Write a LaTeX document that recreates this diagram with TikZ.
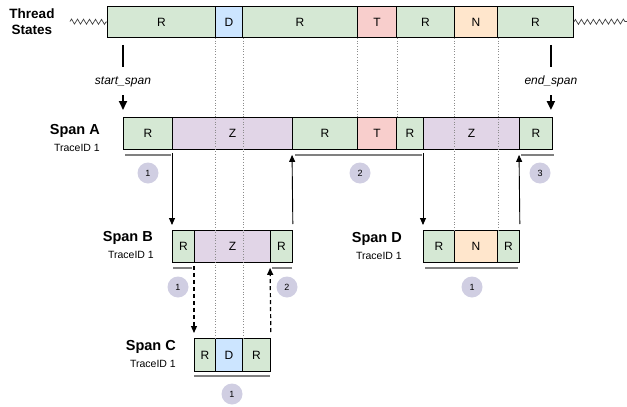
\documentclass[tikz,border=0pt]{standalone}
\usepackage{fontspec}
\setmainfont{Liberation Sans}
\usetikzlibrary{arrows.meta,decorations.pathmorphing,calc}

\definecolor{rfill}{HTML}{D5E8D4}
\definecolor{dfill}{HTML}{CCE5FF}
\definecolor{tfill}{HTML}{F8CECC}
\definecolor{nfill}{HTML}{FFE6CC}
\definecolor{zfill}{HTML}{E1D5E7}
\definecolor{badge}{HTML}{D0CEE2}
\definecolor{rule}{HTML}{808080}
\definecolor{guide}{HTML}{8C8C8C}

\begin{document}
\begin{tikzpicture}[x=1pt,y=-1pt,
  seg/.style={draw=black, line width=0.9pt, anchor=north west, inner sep=0pt,
    font=\fontsize{12}{14}\selectfont},
  rs/.style={seg, fill=rfill},
  ds/.style={seg, fill=dfill},
  ts/.style={seg, fill=tfill},
  ns/.style={seg, fill=nfill},
  zs/.style={seg, fill=zfill},
  spanname/.style={anchor=east, inner sep=0pt, font=\bfseries\fontsize{14.5}{16}\selectfont},
  traceid/.style={anchor=east, inner sep=0pt, font=\fontsize{10.5}{12}\selectfont},
  num/.style={circle, fill=badge, minimum size=21pt, inner sep=0pt,
    font=\fontsize{9}{10}\selectfont},
  under/.style={draw=rule, line width=2.5pt},
  guideline/.style={draw=guide, line width=0.7pt, dotted},
  conn/.style={draw=black, line width=0.9pt, -{Triangle[length=7pt,width=6pt]},
    shorten <=3pt, shorten >=5pt},
  dconn/.style={conn, dashed, dash pattern=on 4pt off 3pt, line width=1.2pt},
  apicall/.style={draw=black, line width=2pt, -{Triangle[length=9pt,width=8pt]},
    shorten <=7pt, shorten >=7pt},
  wave/.style={draw=black!75, line width=0.7pt, decorate,
    decoration={zigzag, segment length=6pt, amplitude=2.5pt}},
  apilabel/.style={fill=white, inner sep=0pt, minimum height=28pt,
    font=\itshape\fontsize{12}{14}\selectfont}
]
\useasboundingbox (0,0) rectangle (627,407);

% thread states timeline
\node[align=center, font=\bfseries\fontsize{13.5}{16}\selectfont] (tlabel) at (32,22) {Thread\\States};
\node[rs, minimum width=108pt, minimum height=31pt] (t1) at (107,6) {R};
\node[ds, minimum width=27pt,  minimum height=31pt] (t2) at (215,6) {D};
\node[rs, minimum width=115pt, minimum height=31pt] (t3) at (242,6) {R};
\node[ts, minimum width=39pt,  minimum height=31pt] (t4) at (357,6) {T};
\node[rs, minimum width=58pt,  minimum height=31pt] (t5) at (396,6) {R};
\node[ns, minimum width=43pt,  minimum height=31pt] (t6) at (454,6) {N};
\node[rs, minimum width=76pt,  minimum height=31pt] (t7) at (497,6) {R};
\coordinate (wl) at (70,21.5);
\coordinate (wr) at (627,21.5);
\draw[wave] (wl) -- (t1.west);
\draw[wave] (t7.east) -- (wr);

% span A
\node[spanname] (naA) at (100,131) {Span A};
\node[traceid] (tiA) at (100,148) {TraceID 1};
\node[rs, minimum width=49pt,  minimum height=32pt] (a1) at (123,117) {R};
\node[zs, minimum width=120pt, minimum height=32pt] (a2) at (172,117) {Z};
\node[rs, minimum width=65pt,  minimum height=32pt] (a3) at (292,117) {R};
\node[ts, minimum width=39pt,  minimum height=32pt] (a4) at (357,117) {T};
\node[rs, minimum width=27pt,  minimum height=32pt] (a5) at (396,117) {R};
\node[zs, minimum width=96pt,  minimum height=32pt] (a6) at (423,117) {Z};
\node[rs, minimum width=33pt,  minimum height=32pt] (a7) at (519,117) {R};

% span B
\node[spanname] (naB) at (153,238) {Span B};
\node[traceid] (tiB) at (154,255) {TraceID 1};
\node[rs, minimum width=22pt, minimum height=32pt] (b1) at (172,230) {R};
\node[zs, minimum width=76pt, minimum height=32pt] (b2) at (194,230) {Z};
\node[rs, minimum width=22pt, minimum height=32pt] (b3) at (270,230) {R};

% span D
\node[spanname] (naD) at (402,239) {Span D};
\node[traceid] (tiD) at (402,256) {TraceID 1};
\node[rs, minimum width=31pt, minimum height=32pt] (d1) at (423,230) {R};
\node[ns, minimum width=43pt, minimum height=32pt] (d2) at (454,230) {N};
\node[rs, minimum width=22pt, minimum height=32pt] (d3) at (497,230) {R};

% span C
\node[spanname] (naC) at (176,347) {Span C};
\node[traceid] (tiC) at (176,364) {TraceID 1};
\node[rs, minimum width=21pt, minimum height=33pt] (c1) at (194,338) {R};
\node[ds, minimum width=27pt, minimum height=33pt] (c2) at (215,338) {D};
\node[rs, minimum width=28pt, minimum height=33pt] (c3) at (242,338) {R};

% dotted guides from the thread states down to the spans
\draw[guideline] (t2.south west) -- (c2.north west);
\draw[guideline] (t2.south east) -- (c2.north east);
\draw[guideline] (t4.south west) -- (a4.north west);
\draw[guideline] (t4.south east) -- (a4.north east);
\draw[guideline] (t6.south west) -- (d2.north west);
\draw[guideline] (t6.south east) -- (d2.north east);

% active intervals under each span
\draw[under] ($(a1.south west)+(2,5)$) -- ($(a1.south east)+(-2,5)$);
\draw[under] ($(a3.south west)+(3,5)$) -- ($(a5.south east)+(-2,5)$);
\draw[under] ($(a7.south west)+(2,5)$) -- ($(a7.south east)+(1,5)$);
\draw[under] ($(b1.south west)+(1,5)$) -- ($(b1.south east)+(-3,5)$);
\draw[under] ($(b3.south west)+(2,5)$) -- ($(b3.south east)+(-1,5)$);
\draw[under] ($(d1.south west)+(2,5)$) -- ($(d3.south east)+(-2,5)$);
\draw[under] ($(c1.south west)+(0,4)$) -- ($(c3.south east)+(-1,4)$);

\node[num] (nA1) at (148,173) {1};
\node[num] (nA2) at (360,173) {2};
\node[num] (nA3) at (540,173) {3};
\node[num] (nB1) at (178,287) {1};
\node[num] (nB2) at (287,287) {2};
\node[num] (nD1) at (472,287) {1};
\node[num] (nC1) at (232,394) {1};

% start / end of span A
\coordinate (ssEnd) at (a1.north west);
\coordinate (ssBeg) at (ssEnd |- t1.south);
\coordinate (esEnd) at ($(a7.north east)+(-2,0)$);
\coordinate (esBeg) at (esEnd |- t7.south);
\draw[apicall] (ssBeg) -- node[apilabel, pos=0.55] {start\_span} (ssEnd);
\draw[apicall] (esBeg) -- node[apilabel, pos=0.55] {end\_span} (esEnd);

% calls between spans
\draw[conn] (a2.south west) -- (b1.north west);
\draw[conn, shorten <=6pt] (b3.north east) -- (a3.south west);
\draw[conn] (a6.south west) -- (d1.north west);
\draw[conn, shorten <=6pt] (d3.north east) -- (a7.south west);
\draw[dconn] (b2.south west) -- (c1.north west);
\draw[dconn, shorten <=6pt] (c3.north east) -- (b3.south west);
\end{tikzpicture}
\end{document}
